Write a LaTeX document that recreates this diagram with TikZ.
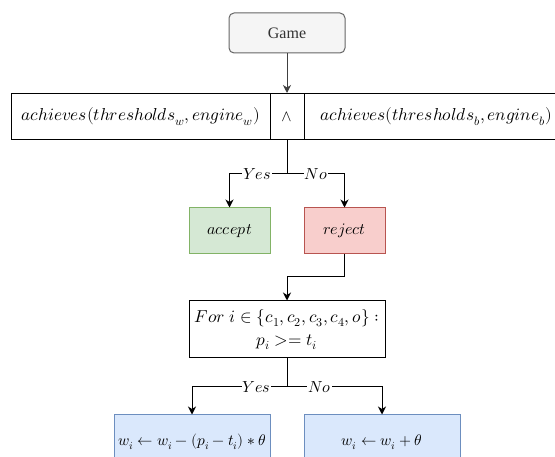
\documentclass[tikz,border=0pt]{standalone}
\usepackage{fontspec}
\usepackage{unicode-math}
\setmathfont{Latin Modern Math}
\usetikzlibrary{arrows.meta}
\newfontfamily\gamefont{Liberation Serif}
\newcommand{\bsz}{\fontsize{16}{23}\selectfont}
\newcommand{\lsz}{\fontsize{17.3}{23}\selectfont}
\newcommand{\ssz}{\fontsize{15.4}{18}\selectfont}
\definecolor{gfill}{HTML}{F5F5F5}
\definecolor{gdraw}{HTML}{666666}
\definecolor{gtext}{HTML}{333333}
\definecolor{okfill}{HTML}{D5E8D4}
\definecolor{okdraw}{HTML}{82B366}
\definecolor{nofill}{HTML}{F8CECC}
\definecolor{nodraw}{HTML}{B85450}
\definecolor{blfill}{HTML}{DAE8FC}
\definecolor{bldraw}{HTML}{6C8EBF}
\begin{document}
\begin{tikzpicture}[x=1pt,y=-1pt,
  box/.style={draw=black, line width=1pt, inner sep=0pt, font=\bsz},
  arr/.style={line width=1pt, -{Stealth[length=8pt,width=8pt,inset=2.5pt]}},
  ln/.style={line width=1pt},
  lab/.style={fill=white, inner sep=1pt, font=\bsz}]
\useasboundingbox (0,0) rectangle (555,457);
\node[draw=gdraw, fill=gfill, rounded corners=5pt, line width=1pt, minimum width=116pt, minimum height=40pt, inner sep=0pt, text=gtext, font=\gamefont\fontsize{16}{18}\selectfont] (game) at (287,33) {Game};
\node[box, minimum width=259pt, minimum height=46pt] (left) at (140.5,116.5) {\lsz$achieves(thresholds_w, engine_w)$};
\node[box, minimum width=34pt, minimum height=46pt] (and) at (287,116.5) {\bsz$\wedge$};
\node[box, minimum width=264pt, minimum height=46pt] (right) at (436,116.5) {\lsz$achieves(thresholds_b, engine_b)$};
\node[box, draw=okdraw, fill=okfill, minimum width=81pt, minimum height=46pt] (accept) at (229.5,231) {\bsz$accept$};
\node[box, draw=nodraw, fill=nofill, minimum width=81pt, minimum height=46pt] (reject) at (344.5,231) {\bsz$reject$};
\node[box, align=center, minimum width=196pt, minimum height=57pt] (for) at (287,329.5) {\lsz$For\ i \in \{c_1, c_2, c_3, c_4, o\}:$\\\lsz$p_i >= t_i$};
\node[box, draw=bldraw, fill=blfill, minimum width=156pt, minimum height=54pt] (lb) at (192,442) {\ssz$w_i \leftarrow w_i - (p_i - t_i) * \theta$};
\node[box, draw=bldraw, fill=blfill, minimum width=156pt, minimum height=54pt] (rb) at (382,442) {\ssz$w_i \leftarrow w_i + \theta$};
\coordinate (j1) at (287,174);
\coordinate (r1) at (344.5,277);
\coordinate (j3) at (287,387);
\draw[arr, draw=black!75] (game) -- (and);
\draw[ln] (and) -- (j1);
\draw[arr] (j1) -| node[lab, pos=0.26] {\bsz$Yes$} (accept);
\draw[arr] (j1) -| node[lab, pos=0.25] {\bsz$No$} (reject);
\draw[arr] (reject) -- (r1) -| (for);
\draw[ln] (for) -- (j3);
\draw[arr] (j3) -| node[lab, pos=0.16] {\bsz$Yes$} (lb);
\draw[arr] (j3) -| node[lab, pos=0.17] {\bsz$No$} (rb);
\end{tikzpicture}
\end{document}
